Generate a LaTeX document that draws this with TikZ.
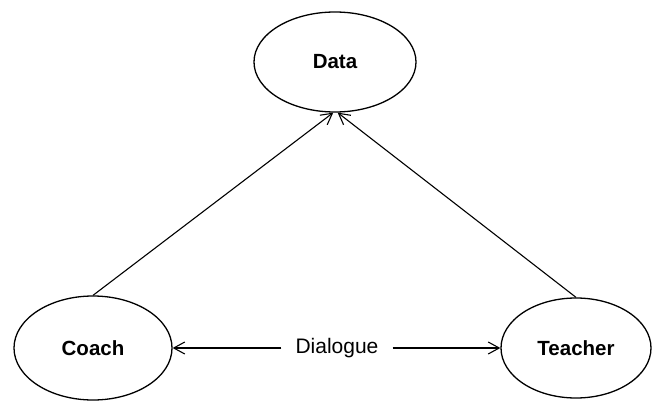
\documentclass[tikz,border=0pt]{standalone}
\usepackage{fontspec}
\setmainfont{Liberation Sans}
\usetikzlibrary{shapes.geometric,arrows.meta}
\begin{document}
\begin{tikzpicture}[x=1pt,y=-1pt,
  oval/.style={draw,ellipse,line width=1.3pt,inner sep=0pt,font=\fontsize{20.5}{25}\selectfont\bfseries},
  arr/.style={line width=1.1pt,-{Straight Barb[length=11pt,width=12pt,line width=1.1pt]}},
  lbl/.style={inner xsep=14pt,inner ysep=2pt,font=\fontsize{21}{25}\selectfont}]
\useasboundingbox (0,0) rectangle (652,403);
\node[oval,minimum width=162pt,minimum height=100pt] (data) at (335,62) {Data};
\node[oval,minimum width=158pt,minimum height=104pt] (coach) at (93,348) {Coach};
\node[oval,minimum width=150pt,minimum height=100pt] (teacher) at (576,348) {Teacher};
\node[lbl] (dialogue) at (337,348) {Dialogue};
\draw[arr] (coach.north) -- (data.-92);
\draw[arr] (teacher.north) -- (data.-87);
\draw[arr] (dialogue.west) -- (coach.east);
\draw[arr] (dialogue.east) -- (teacher.west);
\end{tikzpicture}
\end{document}
